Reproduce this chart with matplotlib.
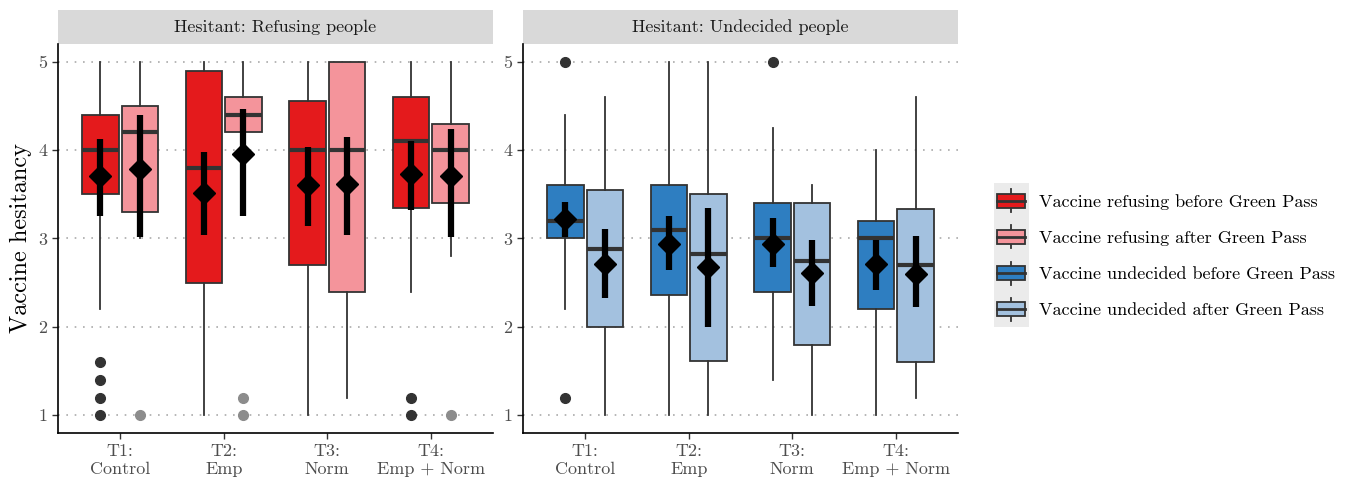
import matplotlib
matplotlib.use("Agg")
import matplotlib.pyplot as plt
from matplotlib.patches import Rectangle, Patch
from matplotlib.lines import Line2D
from matplotlib.legend_handler import HandlerBase

plt.rcParams['font.family'] = ['cmr10', 'DejaVu Serif']
plt.rcParams['axes.formatter.use_mathtext'] = True

# ---- data ----
categories = ['T1:\nControl', 'T2:\nEmp', 'T3:\nNorm', 'T4:\nEmp + Norm']
panel_titles = ['Hesitant: Refusing people', 'Hesitant: Undecided people']
series_labels = ['Vaccine refusing before Green Pass', 'Vaccine refusing after Green Pass',
                 'Vaccine undecided before Green Pass', 'Vaccine undecided after Green Pass']

# refusing, before
ref_pre_q1 = [3.50, 2.50, 2.70, 3.35]
ref_pre_med = [4.00, 3.80, 4.00, 4.10]
ref_pre_q3 = [4.40, 4.90, 4.56, 4.60]
ref_pre_lo = [2.20, 1.00, 1.00, 2.40]
ref_pre_hi = [5.00, 5.00, 5.00, 5.00]
ref_pre_out = [[1.0, 1.2, 1.4, 1.6], [], [], [1.0, 1.2]]
ref_pre_mean = [3.71, 3.52, 3.60, 3.73]
ref_pre_cilo = [3.25, 3.04, 3.14, 3.32]
ref_pre_cihi = [4.12, 3.98, 4.03, 4.10]

# refusing, after
ref_post_q1 = [3.30, 4.20, 2.40, 3.40]
ref_post_med = [4.20, 4.40, 4.00, 4.00]
ref_post_q3 = [4.50, 4.60, 5.00, 4.30]
ref_post_lo = [3.00, 3.60, 1.20, 2.80]
ref_post_hi = [5.00, 5.00, 5.00, 5.00]
ref_post_out = [[1.0], [1.0, 1.2], [], [1.0]]
ref_post_mean = [3.79, 3.96, 3.62, 3.71]
ref_post_cilo = [3.02, 3.25, 3.04, 3.02]
ref_post_cihi = [4.40, 4.46, 4.15, 4.24]

# undecided, before
und_pre_q1 = [3.00, 2.36, 2.40, 2.20]
und_pre_med = [3.20, 3.10, 3.00, 3.00]
und_pre_q3 = [3.60, 3.60, 3.40, 3.20]
und_pre_lo = [2.20, 1.00, 1.40, 1.00]
und_pre_hi = [4.40, 5.00, 4.25, 4.00]
und_pre_out = [[1.2, 5.0], [], [5.0], []]
und_pre_mean = [3.22, 2.94, 2.94, 2.71]
und_pre_cilo = [3.02, 2.64, 2.68, 2.42]
und_pre_cihi = [3.41, 3.25, 3.23, 2.98]

# undecided, after
und_post_q1 = [2.00, 1.62, 1.80, 1.60]
und_post_med = [2.88, 2.83, 2.75, 2.70]
und_post_q3 = [3.55, 3.50, 3.40, 3.33]
und_post_lo = [1.00, 1.00, 1.00, 1.20]
und_post_hi = [4.60, 5.00, 3.60, 4.60]
und_post_out = [[], [], [], []]
und_post_mean = [2.71, 2.68, 2.61, 2.60]
und_post_cilo = [2.33, 2.00, 2.24, 2.23]
und_post_cihi = [3.11, 3.35, 2.98, 3.03]

colors = ['#E41A1C', '#F4949B', '#2E7EC1', '#A3C1DF']
edge = '#333333'


def make_stats(q1, med, q3, lo, hi, out):
    return [dict(q1=a, med=b, q3=c, whislo=d, whishi=e, fliers=f)
            for a, b, c, d, e, f in zip(q1, med, q3, lo, hi, out)]


panels = [
    [(make_stats(ref_pre_q1, ref_pre_med, ref_pre_q3, ref_pre_lo, ref_pre_hi, ref_pre_out),
      ref_pre_mean, ref_pre_cilo, ref_pre_cihi, colors[0], '#333333'),
     (make_stats(ref_post_q1, ref_post_med, ref_post_q3, ref_post_lo, ref_post_hi, ref_post_out),
      ref_post_mean, ref_post_cilo, ref_post_cihi, colors[1], '#8C8C8C')],
    [(make_stats(und_pre_q1, und_pre_med, und_pre_q3, und_pre_lo, und_pre_hi, und_pre_out),
      und_pre_mean, und_pre_cilo, und_pre_cihi, colors[2], '#333333'),
     (make_stats(und_post_q1, und_post_med, und_post_q3, und_post_lo, und_post_hi, und_post_out),
      und_post_mean, und_post_cilo, und_post_cihi, colors[3], '#8C8C8C')],
]

fig = plt.figure(figsize=(13.52, 4.83), dpi=100)
W, H = 1352, 483
ax_left = [58, 523]
ax_w = 435
ax_top, ax_bot = 44, 433

x = list(range(1, len(categories) + 1))
offsets = [-0.19, 0.19]

for p, groups in enumerate(panels):
    ax = fig.add_axes([ax_left[p] / W, 1 - ax_bot / H, ax_w / W, (ax_bot - ax_top) / H])
    for g, (stats, mean, cilo, cihi, fc, outc) in enumerate(groups):
        pos = [xi + offsets[g] for xi in x]
        ax.bxp(stats, positions=pos, widths=0.35, patch_artist=True, showcaps=False,
               boxprops=dict(facecolor=fc, edgecolor=edge, linewidth=1.3),
               medianprops=dict(color=edge, linewidth=3, solid_capstyle='butt'),
               whiskerprops=dict(color=edge, linewidth=1.3),
               flierprops=dict(marker='o', markerfacecolor=outc, markeredgecolor=outc,
                               markersize=7),
               manage_ticks=False, zorder=2)
        yerr = [[m - l for m, l in zip(mean, cilo)], [h - m for m, h in zip(mean, cihi)]]
        ax.errorbar(pos, mean, yerr=yerr, fmt='D', color='black', markersize=11,
                    elinewidth=4.5, capsize=0, zorder=4)
    ax.set_xlim(0.4, 4.6)
    ax.set_ylim(0.8, 5.2)
    ax.set_xticks(x)
    ax.set_xticklabels(categories, fontsize=13, color='#4D4D4D', linespacing=1.25)
    ax.set_yticks([1, 2, 3, 4, 5])
    ax.set_yticklabels(['1', '2', '3', '4', '5'], fontsize=13, color='#4D4D4D')
    ax.tick_params(axis='both', length=4, width=1, color='#333333')
    for yv in [1, 2, 3, 4, 5]:
        ax.axhline(yv, color='#AAAAAA', linestyle=(0, (1, 4)), linewidth=1.2, zorder=0)
    for s in ['top', 'right']:
        ax.spines[s].set_visible(False)
    for s in ['left', 'bottom']:
        ax.spines[s].set_linewidth(1.2)
    # facet strip
    strip_h = 34 / (ax_bot - ax_top)
    ax.add_patch(Rectangle((0, 1.0), 1, strip_h, transform=ax.transAxes,
                           facecolor='#D9D9D9', edgecolor='none', clip_on=False))
    ax.text(0.5, 1 + strip_h / 2, panel_titles[p], transform=ax.transAxes,
            ha='center', va='center', fontsize=13, color='#1A1A1A')
    if p == 0:
        ax.set_ylabel('Vaccine hesitancy', fontsize=17.5, labelpad=5)


class BoxKey(HandlerBase):
    def create_artists(self, legend, orig_handle, xdescent, ydescent, width, height,
                       fontsize, trans):
        pad = legend.labelspacing * fontsize / 2
        bg = Rectangle((-xdescent, -ydescent - pad), width, height + 2 * pad,
                       facecolor='#EBEBEB', edgecolor='none', transform=trans)
        bw = width * 0.8
        bx = -xdescent + (width - bw) / 2
        bh = height * 0.62
        by = -ydescent + (height - bh) / 2
        cx = -xdescent + width / 2
        wlo = Line2D([cx, cx], [-ydescent, by], color=edge, lw=1.3, transform=trans)
        whi = Line2D([cx, cx], [by + bh, -ydescent + height], color=edge, lw=1.3, transform=trans)
        box = Rectangle((bx, by), bw, bh, facecolor=orig_handle.get_facecolor(),
                        edgecolor=edge, lw=1.3, transform=trans)
        med = Line2D([bx, bx + bw], [by + bh / 2] * 2, color=edge, lw=2, transform=trans)
        return [bg, wlo, whi, box, med]


handles = [Patch(facecolor=c) for c in colors]
fig.legend(handles, series_labels, handler_map={Patch: BoxKey()},
           loc='center left', bbox_to_anchor=(981 / W, 1 - 255 / H), frameon=False,
           fontsize=13, handlelength=1.95, handleheight=1.6, labelspacing=0.72,
           handletextpad=0.55, borderpad=0.2)

fig.savefig('out.png', dpi=100)
